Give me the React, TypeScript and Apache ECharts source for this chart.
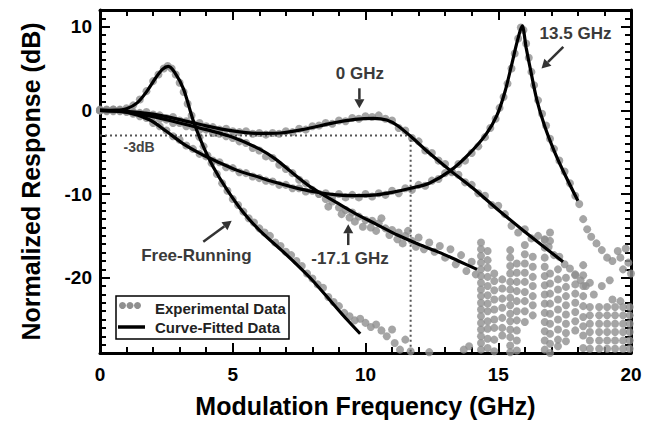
import React, { useEffect, useRef } from "react";
import * as echarts from "echarts";

type P = [number, number];

// ---------- axis ticks ----------
const xTicks = [0, 5, 10, 15, 20];
const yMajorTicks = [-20, -10, 0, 10];

// ---------- fitted curves ----------
const fitFreeRunning: P[] = [
  [0, 0], [0.6, 0.02], [1.0, 0.2], [1.4, 0.9], [1.77, 2.3], [2.1, 3.9], [2.35, 4.9], [2.57, 5.25],
  [2.8, 4.6], [3.14, 2.6], [3.51, -1.2], [3.89, -4.3], [4.27, -6.8], [4.77, -9.4], [5.4, -12.2],
  [6.0, -14.3], [6.9, -16.9], [7.5, -18.7], [8.0, -20.3], [8.8, -23.2], [9.3, -25.0], [9.8, -26.7],
];
const fit0GHz: P[] = [
  [0, 0], [1, -0.1], [2, -0.45], [3, -1.1], [4, -1.85], [5, -2.45], [6, -2.75], [6.8, -2.7],
  [7.7, -2.25], [8.7, -1.55], [9.6, -1.08], [10.3, -0.95], [10.8, -1.15], [11.2, -1.8], [11.7, -3.1],
  [12.4, -5.1], [13.2, -7.2], [14.05, -9.3], [15.0, -11.9], [16.0, -14.5], [16.8, -16.5], [17.44, -18.1],
];
const fit13p5GHz: P[] = [
  [0, 0], [1, -0.2], [1.88, -1.15], [2.5, -2.5], [3.14, -4.0], [3.8, -5.2], [4.4, -6.1], [5.2, -7.2],
  [6.0, -8.0], [6.6, -8.6], [7.3, -9.2], [8.0, -9.7], [8.9, -10.1], [9.7, -10.2], [10.4, -10.1],
  [11.0, -9.8], [11.7, -9.3], [12.4, -8.7], [13.2, -7.2], [13.9, -5.2], [14.55, -2.8], [14.95, -0.6],
  [15.25, 2.2], [15.5, 5.4], [15.72, 8.3], [15.9, 10.1], [16.05, 7.5], [16.2, 5.1], [16.45, 1.3],
  [16.75, -1.9], [17.1, -4.8], [17.5, -7.6], [18.0, -10.8],
];
const fitMinus17p1GHz: P[] = [
  [0, 0], [1, -0.2], [2, -0.75], [3, -1.5], [4, -2.3], [5, -3.2], [6, -4.6], [6.6, -5.8],
  [7.3, -7.6], [8.0, -9.3], [8.9, -11.0], [9.6, -12.3], [10.4, -13.6], [11.2, -14.9], [12.0, -16.0],
  [12.8, -17.0], [13.5, -18.0], [14.2, -19.0],
];

// ---------- experimental data ----------
const expFreeRunning: P[] = [
  [0, 0], [0.25, 0.05], [0.5, 0], [0.75, 0.1], [1.0, 0.25], [1.25, 0.6], [1.5, 1.3], [1.75, 2.3],
  [2.0, 3.5], [2.2, 4.3], [2.4, 5.0], [2.55, 5.3], [2.7, 5.0], [2.85, 4.3], [3.0, 3.3], [3.15, 2.2],
  [3.3, 0.8], [3.45, -0.6], [3.6, -2.0], [3.75, -3.2], [3.9, -4.3], [4.05, -5.4], [4.2, -6.3],
  [4.4, -7.6], [4.6, -8.7], [4.8, -9.6], [5.0, -10.6], [5.2, -11.3], [5.4, -12.1], [5.6, -12.9],
  [5.8, -13.4], [6.0, -14.1], [6.2, -14.6], [6.4, -15.0], [6.6, -15.8], [6.8, -16.2], [7.0, -16.9],
  [7.2, -17.3], [7.4, -18.0], [7.6, -18.6], [7.8, -19.5], [8.0, -20.1], [8.2, -20.8], [8.4, -21.2],
  [8.6, -22.3], [8.8, -22.9], [9.0, -23.4], [9.2, -24.2], [9.4, -24.6], [9.6, -25.1], [9.8, -24.9],
  [10.0, -25.4], [10.2, -25.9], [10.4, -25.6], [10.6, -26.3], [10.8, -27.0], [11.0, -26.2],
  [11.1, -27.8], [11.3, -28.6], [11.5, -27.4], [11.7, -28.8], [12.4, -28.9], [13.7, -28.6], [13.9, -28.2],
];
const exp0GHz: P[] = [
  [0, 0.1], [0.25, 0], [0.5, 0.1], [0.75, -0.1], [1.0, 0], [1.25, -0.2], [1.5, -0.3], [1.75, -0.2],
  [2.0, -0.5], [2.25, -0.6], [2.5, -0.9], [2.75, -0.8], [3.0, -1.2], [3.25, -1.3], [3.5, -1.6],
  [3.75, -1.5], [4.0, -1.9], [4.25, -2.0], [4.5, -2.3], [4.75, -2.2], [5.0, -2.5], [5.25, -2.6],
  [5.5, -2.5], [5.75, -2.8], [6.0, -2.7], [6.25, -2.9], [6.5, -2.7], [6.75, -2.8], [7.0, -2.5],
  [7.25, -2.6], [7.5, -2.2], [7.75, -2.3], [8.0, -1.9], [8.25, -1.8], [8.5, -1.5], [8.75, -1.6],
  [9.0, -1.2], [9.25, -1.3], [9.5, -0.9], [9.75, -1.0], [10.0, -0.7], [10.25, -0.8], [10.5, -0.6],
  [10.75, -1.0], [11.0, -1.2], [11.25, -2.1], [11.5, -2.4], [11.75, -3.3], [12.0, -3.7], [12.25, -4.8],
  [12.5, -5.1], [12.75, -6.0], [13.0, -6.4], [13.25, -7.4], [13.5, -7.7], [13.75, -8.6], [14.0, -8.9],
  [14.25, -9.9], [14.5, -10.2], [14.75, -11.3], [15.0, -11.4], [15.25, -12.4], [15.5, -13.8],
  [15.75, -14.6], [16.0, -14.2], [16.25, -15.3], [16.5, -15.0], [16.75, -15.4], [16.9, -16.3],
  [17.1, -17.3], [17.3, -17.5], [17.5, -18.4], [17.7, -18.9], [17.9, -19.6], [18.1, -20.3], [18.3, -21.0],
];
const exp13p5GHz: P[] = [
  [0, 0], [0.25, 0.1], [0.5, -0.1], [0.75, 0], [1.0, -0.2], [1.25, -0.4], [1.5, -0.7], [1.75, -0.9],
  [2.0, -1.5], [2.25, -1.9], [2.5, -2.4], [2.75, -3.1], [3.0, -3.5], [3.25, -4.2], [3.5, -4.6],
  [3.75, -5.2], [4.0, -5.5], [4.25, -6.0], [4.5, -6.2], [4.75, -6.8], [5.0, -6.9], [5.25, -7.4],
  [5.5, -7.5], [5.75, -7.9], [6.0, -8.1], [6.25, -8.4], [6.5, -8.5], [6.75, -8.9], [7.0, -8.9],
  [7.25, -9.3], [7.5, -9.3], [7.75, -9.7], [8.0, -9.6], [8.25, -10.0], [8.5, -9.9], [8.75, -10.3],
  [9.0, -10.0], [9.25, -10.4], [9.5, -10.1], [9.75, -10.4], [10.0, -10.0], [10.25, -10.3], [10.5, -9.9],
  [10.75, -10.1], [11.0, -9.6], [11.25, -9.9], [11.5, -9.3], [11.75, -9.5], [12.0, -8.9], [12.25, -9.0],
  [12.5, -8.4], [12.75, -8.2], [13.0, -7.5], [13.25, -7.3], [13.5, -6.4], [13.75, -6.0], [14.0, -5.1],
  [14.25, -4.3], [14.5, -3.2], [14.7, -2.1], [14.9, -1.0], [15.05, 0.3], [15.2, 1.6], [15.35, 3.2],
  [15.5, 5.0], [15.62, 6.8], [15.75, 8.6], [15.85, 9.9], [15.95, 9.6], [16.05, 8.0], [16.15, 6.3],
  [16.25, 4.6], [16.35, 3.0], [16.5, 1.2], [16.65, -0.4], [16.8, -1.8], [16.95, -3.4], [17.1, -4.6],
  [17.3, -6.0], [17.5, -7.3], [17.7, -8.7], [17.9, -10.2], [18.05, -11.2], [18.2, -13.0], [18.35, -14.2],
  [18.5, -15.1], [18.7, -15.9], [18.9, -16.7], [19.1, -17.6], [19.3, -18.0], [19.5, -16.8], [19.6, -17.6],
  [19.7, -19.0], [19.8, -16.5], [19.9, -18.2], [20.0, -19.5],
];
const expMinus17p1GHz: P[] = [
  [0, 0], [0.25, -0.1], [0.5, 0.1], [0.75, 0], [1.0, -0.1], [1.25, -0.3], [1.5, -0.4], [1.75, -0.6],
  [2.0, -0.7], [2.25, -1.0], [2.5, -1.1], [2.75, -1.5], [3.0, -1.5], [3.25, -1.9], [3.5, -2.0],
  [3.75, -2.3], [4.0, -2.3], [4.25, -2.7], [4.5, -2.8], [4.75, -3.1], [5.0, -3.3], [5.25, -3.7],
  [5.5, -3.9], [5.75, -4.5], [6.0, -4.8], [6.25, -5.5], [6.5, -5.7], [6.75, -6.5], [7.0, -7.0],
  [7.25, -7.5], [7.5, -8.3], [7.75, -8.7], [8.0, -9.5], [8.25, -10.0], [8.5, -10.6], [8.6, -11.5],
  [8.75, -10.9], [9.0, -11.6], [9.1, -12.4], [9.25, -11.9], [9.4, -12.8], [9.5, -12.2], [9.6, -13.3],
  [9.75, -12.7], [9.9, -13.9], [10.0, -13.1], [10.2, -14.0], [10.25, -13.2], [10.4, -14.4], [10.5, -13.5],
  [10.6, -12.9], [10.75, -14.1], [10.9, -14.9], [11.0, -14.3], [11.2, -15.4], [11.25, -14.6],
  [11.4, -15.9], [11.5, -15.0], [11.6, -14.4], [11.75, -15.6], [11.9, -16.3], [12.0, -15.2],
  [12.2, -16.6], [12.4, -15.8], [12.6, -16.9], [12.8, -16.2], [13.0, -17.6], [13.2, -16.6],
  [13.4, -18.4], [13.6, -17.3], [13.8, -19.2], [14.0, -18.1], [14.15, -19.6],
];
// noise-floor measurements above ~14 GHz: [frequency, readings in dB]
const noiseColumns: [number, number[]][] = [
  [14.35, [-15.8, -16.6, -17.4, -18.2, -19.0, -19.8, -20.6, -21.4, -22.2, -23.0, -23.8, -24.6, -25.4, -26.2, -27.0, -27.8, -28.6]],
  [14.6, [-16.8, -17.9, -18.8, -19.9, -21.0, -22.1, -23.1, -24.0, -25.2, -26.1, -27.3, -28.4]],
  [14.85, [-19.5, -20.4, -21.5, -22.6, -23.8, -25.0, -26.0, -27.4, -28.8]],
  [15.15, [-20.2, -21.3, -22.5, -23.6, -24.8, -26.0, -26.9]],
  [15.45, [-16.7, -17.6, -18.6, -19.5, -20.5, -21.4, -22.4, -23.3, -24.3, -25.2, -26.2, -27.1, -28.1, -28.9]],
  [15.7, [-18.3, -19.4, -20.5, -21.6, -22.8, -24.0, -25.1, -26.3, -27.5, -28.7]],
  [16.0, [-16.1, -17.2, -18.3, -19.4, -20.5, -21.7, -22.8, -24.0, -25.3]],
  [16.3, [-17.5, -18.7, -19.9, -21.0, -22.2, -23.3, -24.5]],
  [16.75, [-15.5, -16.4, -17.6, -18.7, -19.8, -20.9, -22.0, -23.1, -24.2, -25.3, -26.4, -27.5, -28.6]],
  [16.95, [-14.6, -15.6, -19.5, -20.7, -21.9, -23.1, -24.3, -25.5, -26.7, -27.9, -29.0]],
  [17.25, [-19.0, -20.2, -21.4, -22.6, -23.8, -25.0, -26.2, -27.4, -28.2]],
  [17.55, [-20.0, -21.1, -22.2, -23.3, -24.4, -25.5, -26.6, -27.6]],
  [17.9, [-19.7, -20.8, -21.9, -23.0, -24.1, -25.2, -26.3]],
  [18.2, [-18.5, -19.7, -21.0, -22.2, -23.4, -24.7, -25.8, -26.9, -28.4]],
  [18.45, [-20.6, -23.5, -24.5, -25.5, -26.5, -27.5, -28.5]],
  [18.6, [-22.0]],
  [18.8, [-23.5, -24.5, -25.5, -26.5, -27.5, -28.5]],
  [18.9, [-21.0]],
  [19.1, [-23.5, -24.5, -25.5, -26.5, -27.5, -28.5]],
  [19.2, [-20.3]],
  [19.3, [-22.6]],
  [19.4, [-23.5, -24.5, -25.5, -26.5, -27.5, -28.5]],
  [19.6, [-22.8]],
  [19.7, [-23.5, -24.5, -25.5, -26.5, -27.5, -28.5]],
  [19.95, [-23.5, -24.5, -25.5, -26.5, -27.5, -28.5]],
];

// -3 dB reference (dotted)
const ref3dB: P[] = [[0, -3], [11.7, -3], [11.7, -29]];

// annotations in data coordinates
const labels = [
  { text: "13.5 GHz", at: [17.91, 9.22] },
  { text: "0 GHz", at: [9.79, 4.35] },
  { text: "Free-Running", at: [3.63, -17.4] },
  { text: "-17.1 GHz", at: [9.42, -17.7] },
];
const arrows = [
  { from: [17.45, 7.6], to: [16.63, 5.0] },
  { from: [9.77, 2.64], to: [9.77, 0.25] },
  { from: [3.89, -15.7], to: [4.96, -13.2] },
  { from: [9.35, -16.1], to: [9.35, -13.6] },
];

const FONT = "'Liberation Sans', Arial, Helvetica, sans-serif";
const DOT = "#8f8f8f";

export default function App() {
  const ref = useRef<HTMLDivElement>(null);
  useEffect(() => {
    if (!ref.current) return;
    const chart = echarts.init(ref.current, null, { renderer: "svg" });
    const noise: P[] = [];
    noiseColumns.forEach(([x, ys]) => ys.forEach((y) => noise.push([x, y])));
    const yMinor: number[] = [];
    for (let v = -28; v <= 11; v++) if (v % 10 !== 0) yMinor.push(v);

    const axisLine = { show: true, onZero: false, lineStyle: { color: "#000", width: 3 } };
    const tickStyle = { color: "#000", width: 2 };
    const xBase = (pos: string, withLabels: boolean) => ({
      type: "value",
      position: pos,
      min: xTicks[0],
      max: xTicks[xTicks.length - 1],
      interval: 5,
      axisLine,
      axisTick: { show: true, inside: true, length: 10, lineStyle: tickStyle },
      minorTick: { show: true, splitNumber: 5, length: 6, lineStyle: tickStyle },
      splitLine: { show: false },
      minorSplitLine: { show: false },
      axisLabel: withLabels
        ? { show: true, fontSize: 19, fontWeight: "bold", color: "#000", margin: 12, fontFamily: FONT }
        : { show: false },
    });
    const yBase = (pos: string, major: boolean, withLabels: boolean) => ({
      type: "value",
      position: pos,
      min: -29,
      max: 12,
      axisLine: major ? axisLine : { show: false, onZero: false },
      axisTick: {
        show: true,
        inside: true,
        length: major ? 10 : 6,
        customValues: major ? yMajorTicks : yMinor,
        lineStyle: tickStyle,
      },
      splitLine: { show: false },
      axisLabel: withLabels
        ? { show: true, customValues: yMajorTicks, fontSize: 19, fontWeight: "bold", color: "#000", margin: 8, fontFamily: FONT }
        : { show: false },
    });

    const scatter = (data: P[]) => ({
      type: "scatter",
      data,
      symbolSize: 8,
      itemStyle: { color: DOT },
      z: 1,
      silent: true,
    });
    const fit = (data: P[]) => ({
      type: "line",
      data,
      showSymbol: false,
      symbol: "none",
      smooth: 0.3,
      lineStyle: { color: "#000", width: 3.2 },
      z: 3,
      silent: true,
    });

    const option: any = {
      animation: false,
      backgroundColor: "#fff",
      textStyle: { fontFamily: FONT },
      grid: { left: 100, right: 26, top: 10, bottom: 70 },
      xAxis: [
        {
          ...xBase("bottom", true),
          name: "Modulation Frequency (GHz)",
          nameLocation: "middle",
          nameGap: 40,
          nameTextStyle: { fontSize: 25, fontWeight: "bold", color: "#000", fontFamily: FONT },
        },
        xBase("top", false),
      ],
      yAxis: [
        {
          ...yBase("left", true, true),
          name: "Normalized Response (dB)",
          nameLocation: "middle",
          nameGap: 57,
          nameTextStyle: { fontSize: 25, fontWeight: "bold", color: "#000", fontFamily: FONT },
        },
        yBase("left", false, false),
        yBase("right", true, false),
        yBase("right", false, false),
      ],
      series: [
        scatter(expFreeRunning),
        scatter(exp0GHz),
        scatter(exp13p5GHz),
        scatter(expMinus17p1GHz),
        scatter(noise),
        {
          type: "line",
          data: ref3dB,
          symbol: "none",
          lineStyle: { color: "#555", width: 2, type: [2, 3] },
          z: 2,
          silent: true,
        },
        fit(fitFreeRunning),
        fit(fit0GHz),
        fit(fit13p5GHz),
        fit(fitMinus17p1GHz),
      ],
    };
    chart.setOption(option);

    const px = (p: number[]) => chart.convertToPixel({ gridIndex: 0 }, p) as number[];
    const g: any[] = [];
    labels.forEach((l) => {
      const [x, y] = px(l.at);
      g.push({
        type: "text",
        x,
        y,
        style: {
          text: l.text,
          fill: "#3a3a3a",
          font: `bold 17px ${FONT}`,
          textAlign: "center",
          textVerticalAlign: "middle",
        },
      });
    });
    {
      const [x, y] = px([1.47, -4.34]);
      g.push({
        type: "text",
        x,
        y,
        style: { text: "-3dB", fill: "#444", font: `bold 14px ${FONT}`, textAlign: "center", textVerticalAlign: "middle" },
      });
    }
    arrows.forEach((a) => {
      const [x1, y1] = px(a.from);
      const [x2, y2] = px(a.to);
      const dx = x2 - x1, dy = y2 - y1;
      const len = Math.hypot(dx, dy) || 1;
      const ux = dx / len, uy = dy / len;
      const hl = 9, hw = 5;
      const bx = x2 - ux * hl, by = y2 - uy * hl;
      g.push({ type: "line", shape: { x1, y1, x2: bx, y2: by }, style: { stroke: "#333", lineWidth: 2.5 } });
      g.push({
        type: "polygon",
        shape: { points: [[x2, y2], [bx - uy * hw, by + ux * hw], [bx + uy * hw, by - ux * hw]] },
        style: { fill: "#333" },
      });
    });
    // legend
    g.push({ type: "rect", shape: { x: 116, y: 296, width: 173, height: 43 }, style: { fill: "#fff", stroke: "#000", lineWidth: 1.5 }, z: 10 });
    [122.5, 130, 137.5].forEach((cx) =>
      g.push({ type: "circle", shape: { cx, cy: 305.5, r: 3.5 }, style: { fill: DOT }, z: 11 })
    );
    g.push({ type: "line", shape: { x1: 118, y1: 327, x2: 145, y2: 327 }, style: { stroke: "#000", lineWidth: 3.5 }, z: 11 });
    g.push({ type: "text", x: 155, y: 308, style: { text: "Experimental Data", fill: "#222", font: `bold 15px ${FONT}`, textVerticalAlign: "middle" }, z: 11 });
    g.push({ type: "text", x: 155, y: 327, style: { text: "Curve-Fitted Data", fill: "#222", font: `bold 15px ${FONT}`, textVerticalAlign: "middle" }, z: 11 });

    chart.setOption({ graphic: g });
    return () => chart.dispose();
  }, []);
  return (
    <div
      ref={ref}
      style={{ position: "fixed", left: 0, top: 0, width: 657, height: 423, background: "#fff" }}
    />
  );
}
